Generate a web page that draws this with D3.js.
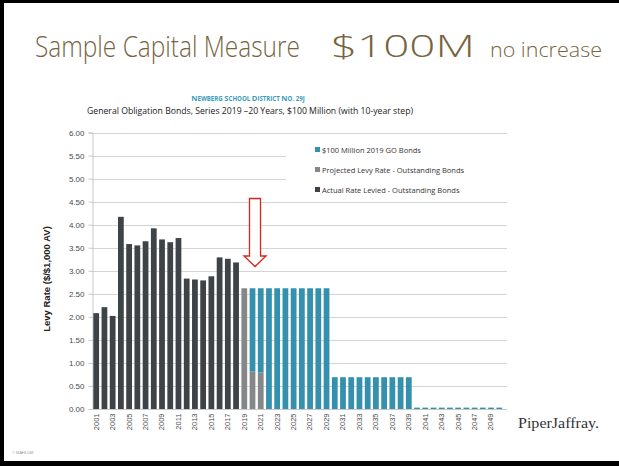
<!DOCTYPE html>
<html>
<head>
<meta charset="utf-8">
<script src="https://cdn.jsdelivr.net/npm/d3@7/dist/d3.min.js"></script>
<style>
  html, body { margin: 0; padding: 0; background: #fff; }
  svg { display: block; }
</style>
</head>
<body>
<svg id="chart" width="619" height="466"></svg>
<script>
// Fiscal years shown on the x axis
const years = [2001,2002,2003,2004,2005,2006,2007,2008,2009,2010,
               2011,2012,2013,2014,2015,2016,2017,2018,2019,2020,
               2021,2022,2023,2024,2025,2026,2027,2028,2029,2030,
               2031,2032,2033,2034,2035,2036,2037,2038,2039,2040,
               2041,2042,2043,2044,2045,2046,2047,2048,2049,2050];

// Actual rate levied on outstanding bonds ($ per $1,000 AV)
const actualRate = [2.08,2.21,2.02,4.17,3.58,3.55,3.64,3.92,3.68,3.62,
                    3.71,2.83,2.81,2.79,2.88,3.29,3.26,3.18,0,0,
                    0,0,0,0,0,0,0,0,0,0,
                    0,0,0,0,0,0,0,0,0,0,
                    0,0,0,0,0,0,0,0,0,0];

// Projected levy rate on outstanding bonds
const projectedRate = [0,0,0,0,0,0,0,0,0,0,
                       0,0,0,0,0,0,0,0,2.62,0.81,
                       0.79,0,0,0,0,0,0,0,0,0,
                       0,0,0,0,0,0,0,0,0,0,
                       0,0,0,0,0,0,0,0,0,0];

// $100 Million 2019 GO Bonds
const newBondRate = [0,0,0,0,0,0,0,0,0,0,
                     0,0,0,0,0,0,0,0,0,1.81,
                     1.83,2.62,2.62,2.62,2.62,2.62,2.62,2.62,2.62,0.69,
                     0.69,0.69,0.69,0.69,0.69,0.69,0.69,0.69,0.69,0.03,
                     0.03,0.03,0.03,0.03,0.03,0.03,0.03,0.03,0.03,0.03];

const yTicks = [0,0.5,1,1.5,2,2.5,3,3.5,4,4.5,5,5.5,6];
const xTickYears = [2001,2003,2005,2007,2009,2011,2013,2015,2017,2019,2021,2023,2025,
                    2027,2029,2031,2033,2035,2037,2039,2041,2043,2045,2047,2049];

const seriesNames = ["Actual Rate Levied - Outstanding Bonds",
                     "Projected Levy Rate - Outstanding Bonds",
                     "$100 Million 2019 GO Bonds"];
const seriesColors = ["#3e4348", "#858789", "#3590ad"];

const svg = d3.select("#chart");

// slide frame
svg.append("rect").attr("x", 0).attr("y", 0).attr("width", 619).attr("height", 466).attr("fill", "#fff");
svg.append("rect").attr("x", 0).attr("y", 0).attr("width", 619).attr("height", 3).attr("fill", "#000");
svg.append("rect").attr("x", 0).attr("y", 0).attr("width", 4).attr("height", 466).attr("fill", "#000");
svg.append("rect").attr("x", 0).attr("y", 461).attr("width", 619).attr("height", 5).attr("fill", "#000");

// slide heading: each piece is scaled horizontally to its slot width
function heading(xPos, size, len, txt) {
  const g = svg.append("g");
  const t = g.append("text").attr("x", 0).attr("y", 0).attr("fill", "#76643f")
    .style("font-family", "'Open Sans', sans-serif").style("font-weight", 300)
    .style("font-size", size + "px").text(txt);
  const natural = t.node().getComputedTextLength();
  g.attr("transform", `translate(${xPos},57) scale(${len / natural},1)`);
}
heading(35, 30, 265, "Sample Capital Measure");
heading(331, 31, 144, "$100M");
heading(490, 20, 112, "no increase");

// chart titles (small caps drawn with two sizes)
const district = svg.append("text").attr("x", 248).attr("y", 101).attr("text-anchor", "middle")
  .attr("fill", "#3a9cba").style("font-family", "'Open Sans', sans-serif").style("font-weight", 700);
[["N", "EWBERG "], ["S", "CHOOL "], ["D", "ISTRICT "], ["N", "O. 29J"]].forEach(([big, rest]) => {
  district.append("tspan").style("font-size", "7.6px").text(big);
  district.append("tspan").style("font-size", "6.1px").text(rest);
});
svg.append("text").attr("x", 250).attr("y", 114).attr("text-anchor", "middle")
  .attr("fill", "#222").style("font-family", "'Open Sans', sans-serif")
  .style("font-size", "8.5px")
  .attr("textLength", 326).attr("lengthAdjust", "spacingAndGlyphs")
  .text("General Obligation Bonds, Series 2019 \u201320 Years, $100 Million (with 10-year step)");

// scales
const x = d3.scaleBand().domain(years).range([92.5, 503]).paddingInner(0.3).paddingOuter(0.1);
const y = d3.scaleLinear().domain([0, 6]).range([409, 132.5]);
const gridRight = 507;

// gridlines
svg.append("g").selectAll("line").data(yTicks.filter(d => d > 0)).join("line")
  .attr("x1", 92).attr("x2", gridRight)
  .attr("y1", d => Math.round(y(d)) + 0.5).attr("y2", d => Math.round(y(d)) + 0.5)
  .attr("stroke", "#d4d4d4").attr("stroke-width", 1);

// y axis
const yAxis = svg.append("g").attr("transform", "translate(92.5,0)")
  .call(d3.axisLeft(y).tickValues(yTicks).tickFormat(d3.format(".2f")).tickSize(4).tickPadding(4));
yAxis.select(".domain").attr("stroke", "#c8c8c8");
yAxis.selectAll(".tick line").attr("stroke", "#c8c8c8");
yAxis.selectAll("text").attr("fill", "#4a4a4a")
  .style("font-family", "'Liberation Sans', Arial, sans-serif").style("font-size", "8px");

svg.append("text")
  .attr("transform", "translate(50,279) rotate(-90)")
  .attr("text-anchor", "middle").attr("fill", "#222")
  .style("font-family", "'Liberation Sans', Arial, sans-serif")
  .style("font-size", "9.5px").style("font-weight", 700)
  .text("Levy Rate ($/$1,000 AV)");

// stacked bars
const table = years.map((yr, i) => ({
  year: yr, actual: actualRate[i], projected: projectedRate[i], bonds: newBondRate[i]
}));
const stack = d3.stack().keys(["actual", "projected", "bonds"])(table);
svg.append("g").selectAll("g").data(stack).join("g")
  .attr("fill", (d, i) => seriesColors[i])
  .selectAll("rect").data(d => d.filter(p => p[1] - p[0] > 0)).join("rect")
  .attr("x", d => x(d.data.year))
  .attr("width", x.bandwidth())
  .attr("y", d => y(d[1]))
  .attr("height", d => Math.max(0, y(d[0]) - y(d[1])));

// x axis
const xAxis = svg.append("g").attr("transform", "translate(0,409.5)")
  .call(d3.axisBottom(x).tickValues(xTickYears).tickSize(0).tickPadding(4));
xAxis.select(".domain").attr("stroke", "#c8c8c8").attr("d", "M92.5,0H" + gridRight);
xAxis.selectAll("text")
  .attr("transform", "rotate(-90)")
  .attr("text-anchor", "end").attr("dy", "0.32em").attr("x", -4).attr("y", 0)
  .attr("fill", "#4a4a4a")
  .style("font-family", "'Liberation Sans', Arial, sans-serif").style("font-size", "7.5px");

// legend
const legend = svg.append("g");
legend.append("rect").attr("x", 286).attr("y", 138).attr("width", 221).attr("height", 64).attr("fill", "#fff");
const legendOrder = [2, 1, 0];
legendOrder.forEach((s, i) => {
  const ly = 150 + i * 20;
  legend.append("rect").attr("x", 315).attr("y", ly - 3).attr("width", 5).attr("height", 5)
    .attr("fill", seriesColors[s]);
  legend.append("text").attr("x", 322).attr("y", ly + 2.5).attr("fill", "#333")
    .style("font-family", "'Open Sans', sans-serif").style("font-size", "7.5px")
    .text(seriesNames[s]);
});

// red marker arrow pointing at 2020
const ax = x(2020) + x.bandwidth() / 2 + 2.5;
const arrowPts = [[ax - 5.5, 198.5], [ax + 5.5, 198.5], [ax + 5.5, 256], [ax + 11, 256],
                  [ax, 266.5], [ax - 11, 256], [ax - 5.5, 256]];
svg.append("polygon").attr("points", arrowPts.map(p => p.join(",")).join(" "))
  .attr("fill", "#fff").attr("stroke", "#d9251d").attr("stroke-width", 1.3);

// logo and credit
svg.append("text").attr("x", 518).attr("y", 428).attr("fill", "#333")
  .style("font-family", "'Liberation Serif', 'Times New Roman', serif").style("font-size", "15px")
  .attr("textLength", 81).attr("lengthAdjust", "spacingAndGlyphs")
  .text("PiperJaffray.");
svg.append("text").attr("x", 12).attr("y", 454).attr("fill", "#999")
  .style("font-family", "'Liberation Sans', Arial, sans-serif").style("font-size", "4px")
  .text("\u00a9 MAHLUM");
</script>
</body>
</html>
